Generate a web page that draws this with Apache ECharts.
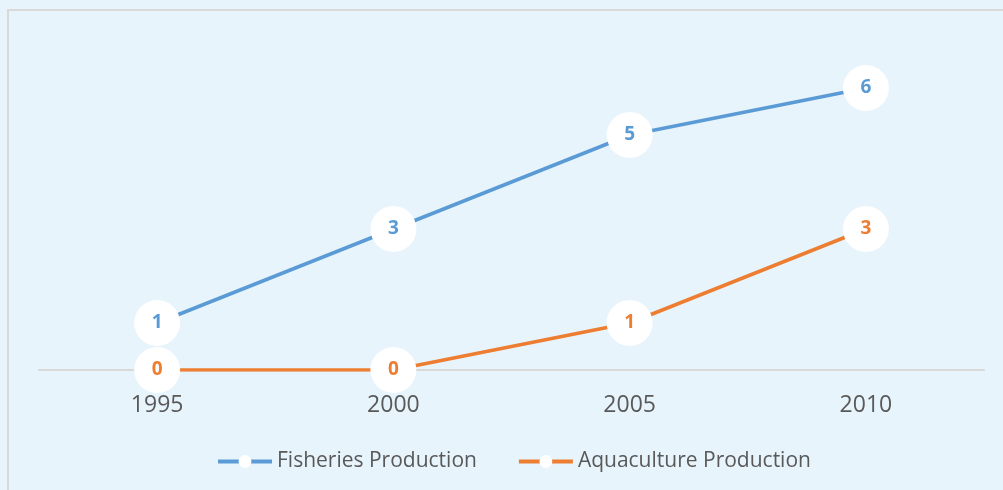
<!DOCTYPE html>
<html>
<head>
<meta charset="utf-8">
<script src="https://cdn.jsdelivr.net/npm/echarts@6/dist/echarts.min.js"></script>
<style>
  html, body { margin: 0; padding: 0; background: #e8f4fc; }
  #chart { width: 1003px; height: 490px; }
</style>
</head>
<body>
<div id="chart"></div>
<script>
const years = ['1995', '2000', '2005', '2010']
const fisheries = [1, 3, 5, 6]
const aquaculture = [0, 0, 1, 3]

const textFont = '"Open Sans", sans-serif'

const chart = echarts.init(document.getElementById('chart'))

function lineSeries(name, data, color) {
  return {
    name: name,
    type: 'line',
    data: data,
    symbol: 'circle',
    symbolSize: 46,
    itemStyle: { color: '#ffffff' },
    lineStyle: { color: color, width: 3.5 },
    label: {
      show: true,
      position: 'inside',
      color: color,
      fontFamily: textFont,
      fontWeight: 'bold',
      fontSize: 19
    },
    emphasis: { disabled: true },
    animation: false
  }
}

chart.setOption({
  backgroundColor: '#e8f4fc',
  color: ['#5b9bd5', '#ed7d31'],
  graphic: [{
    type: 'rect',
    shape: { x: 8, y: 10, width: 1010, height: 500 },
    style: { fill: 'none', stroke: '#d9d9d9', lineWidth: 2 },
    z: -1
  }],
  legend: {
    bottom: 13,
    left: 211,
    itemWidth: 54,
    itemHeight: 16,
    itemGap: 40,
    lineStyle: { width: 4 },
    textStyle: { color: '#595959', fontSize: 21, fontFamily: textFont },
    data: ['Fisheries Production', 'Aquaculture Production']
  },
  grid: { left: 39, right: 19, top: 41, bottom: 120 },
  xAxis: {
    type: 'category',
    data: years,
    boundaryGap: true,
    axisLine: { lineStyle: { color: '#d9d9d9', width: 2 } },
    axisTick: { show: false },
    axisLabel: { color: '#595959', fontSize: 23, fontFamily: textFont, margin: 24 }
  },
  yAxis: {
    type: 'value',
    min: 0,
    max: 7,
    show: false,
    splitLine: { show: false }
  },
  series: [
    Object.assign(lineSeries('Fisheries Production', fisheries, '#5b9bd5'), { z: 3 }),
    Object.assign(lineSeries('Aquaculture Production', aquaculture, '#ed7d31'), { z: 4 })
  ]
})
</script>
</body>
</html>
